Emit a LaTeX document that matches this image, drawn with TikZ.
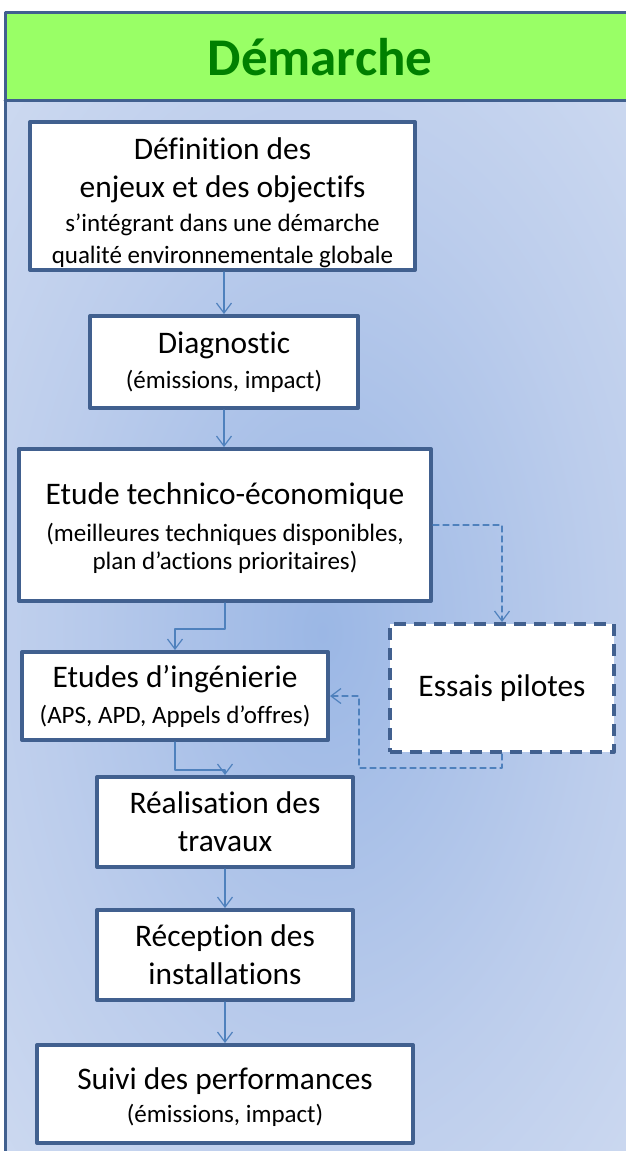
\documentclass[tikz,border=0pt]{standalone}
\usepackage{fontspec}
\setmainfont[Ligatures=NoCommon]{Carlito}
\usetikzlibrary{arrows.meta}
\usetikzlibrary{positioning}

\definecolor{cadre}{HTML}{41608F}
\definecolor{fleche}{HTML}{4F81BD}
\definecolor{bandeau}{HTML}{99FF66}
\definecolor{vertitre}{HTML}{008000}
\definecolor{fondfonce}{HTML}{9BB7E5}
\definecolor{fondmoyen}{HTML}{BCCDEC}
\definecolor{fondclair}{HTML}{DDE5F4}
\pgfdeclareradialshading{fondbleu}{\pgfpoint{0bp}{0bp}}{color(0bp)=(fondfonce); color(22bp)=(fondmoyen); color(50bp)=(fondclair); color(75bp)=(fondclair)}

\newcommand\grand{\fontsize{15.7}{19}\selectfont}
\newcommand\petit{\fontsize{12.5}{16}\selectfont}

\begin{document}
\begin{tikzpicture}[line cap=round,line join=round,>={Straight Barb[length=5pt,width=7.5pt]},x=0.5pt,y=-0.5pt,
  etape/.style={draw=cadre,line width=2pt,fill=white,inner sep=0pt,align=center,font=\grand},
  essai/.style={etape,line cap=butt,dash pattern=on 6pt off 4pt},
  lien/.style={draw=fleche,line width=0.6pt},
  pointille/.style={lien,dash pattern=on 3pt off 2pt}]
\useasboundingbox (0,0) rectangle (626,1151);
% fond et bandeau
\shade[shading=fondbleu] (5,100) rectangle (640,1165);
\fill[bandeau] (5,12) rectangle (660,100);
\draw[cadre,line width=1.5pt] (5,12) rectangle (660,1180);
\draw[cadre,line width=1.5pt] (5,100) -- (660,100);
\node[text=vertitre,font=\bfseries\fontsize{26.5}{30}\selectfont] (titre) at (320,57) {Démarche};

% etapes
\node[etape,minimum width=192.5pt,minimum height=74pt] (def) at (222.5,196)
  {\rule{0pt}{18pt}Définition des\\enjeux et des objectifs\\[-2pt]{\petit s’intégrant dans une démarche}\\[-3pt]{\petit qualité environnementale globale}};
\node[etape,minimum width=134pt,minimum height=46pt] (diag) at (224,362)
  {Diagnostic\\[-1.5pt]{\petit (émissions, impact)}};
\node[etape,minimum width=206pt,minimum height=76pt] (eco) at (225,525)
  {\rule{0pt}{14pt}Etude technico-économique\\[-0.5pt]{\petit (meilleures techniques disponibles,}\\[-5pt]{\petit plan d’actions prioritaires)}};
\node[etape,minimum width=153pt,minimum height=44pt] (inge) at (175,696)
  {Etudes d’ingénierie\\[-1pt]{\petit (APS, APD, Appels d’offres)}};
\node[essai,minimum width=112pt,minimum height=64pt] (essais) at (502,688) {Essais pilotes};
\node[etape,minimum width=128pt,minimum height=45pt] (real) at (225,822)
  {Réalisation des\\travaux};
\node[etape,minimum width=128pt,minimum height=45pt] (recep) at (225,955)
  {Réception des\\installations};
\node[etape,minimum width=188pt,minimum height=49pt] (suivi) at (225,1094)
  {\rule{0pt}{14pt}Suivi des performances\\[-2.5pt]{\petit (émissions, impact)}};
\coordinate (retour) at (359,768);

% liens
\draw[lien,->] (def.south -| diag.north) -- (diag.north);
\draw[lien,->] (diag.south) -- (eco.north -| diag.south);
\draw[lien,->] (eco.south) -- ++(0,26) -| (inge.north);
\draw[lien,->] (inge.south) -- ++(0,28) -| (real.north);
\draw[lien,->] (real.south) -- (recep.north);
\draw[lien,->] (recep.south) -- (suivi.north);
\draw[pointille,->] (eco.east) -| (essais.north);
\draw[pointille,->] (essais.south) |- (retour) |- (inge.east);
\end{tikzpicture}
\end{document}
